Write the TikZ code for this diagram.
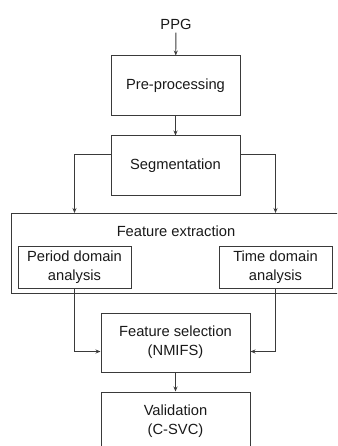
\documentclass[tikz,border=0pt]{standalone}
\usepackage{fontspec}
\setmainfont{Liberation Sans}
\usetikzlibrary{arrows.meta}
\usetikzlibrary{positioning}
\definecolor{linegray}{HTML}{3A3A3A}
\tikzset{
  blk/.style={draw=linegray, line width=1pt, inner sep=0pt, align=center},
  arr/.style={draw=linegray, line width=0.9pt, -{Stealth[length=5pt,width=4pt]}},
}
\begin{document}
\begin{tikzpicture}[x=1pt, y=-1pt, font=\fontsize{14.7}{19}\selectfont, text=black!90]
\useasboundingbox (0,0) rectangle (337,446);
\clip (0,0) rectangle (337,446);

\node (ppg) at (176,24) {PPG};
\node[blk, minimum width=129pt, minimum height=60pt] (pre) at (175.5,86) {Pre-processing};
\node[blk, minimum width=129pt, minimum height=59pt] (seg) at (175.5,165.5) {Segmentation};

% feature extraction block
\node[blk, minimum width=334pt, minimum height=80pt] (fe) at (178,253.5) {};
\node (fetext) at (176,231) {Feature extraction};
\node[blk, minimum width=113pt, minimum height=42pt] (pda) at (74.5,267) {Period domain\\analysis};
\node[blk, minimum width=113pt, minimum height=42pt] (tda) at (275.5,267) {Time domain\\analysis};

\node[blk, minimum width=149pt, minimum height=59pt] (fs) at (175.5,342.5) {Feature selection\\(NMIFS)};
\node[blk, minimum width=149pt, minimum height=59pt] (val) at (175.5,421.5) {Validation\\(C-SVC)};

\draw[arr] (ppg) -- (pre);
\draw[arr] (pre) -- (seg);
\draw[arr] ([yshift=11.5pt]seg.west) -| (pda.north |- fe.north);
\draw[arr] ([yshift=11.5pt]seg.east) -| (tda.north |- fe.north);
\draw[arr] (pda.south) |- ([yshift=-9pt]fs.west);
\draw[arr] (tda.south) |- ([yshift=-9pt]fs.east);
\draw[arr] (fs) -- (val);
\end{tikzpicture}
\end{document}
